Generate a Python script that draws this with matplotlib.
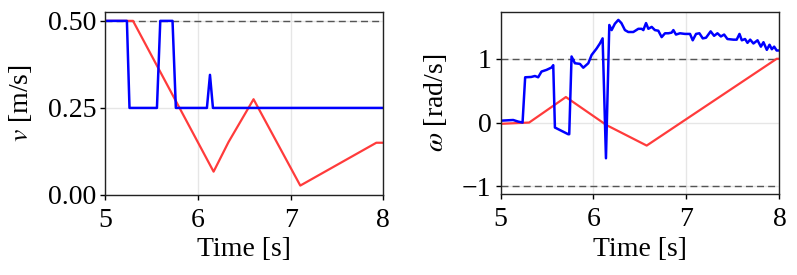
import numpy as np
import matplotlib
matplotlib.use("Agg")
import matplotlib.pyplot as plt

plt.rcParams['font.family'] = ['Liberation Serif', 'DejaVu Serif']
plt.rcParams['mathtext.fontset'] = 'stix'
plt.rcParams['font.size'] = 20

# linear velocity: command (blue) and reference (red)
v_cmd_t = [5.0, 5.234, 5.262, 5.558, 5.594, 5.726, 5.762, 6.097, 6.13, 6.162, 8.0]
v_cmd = [0.5, 0.5, 0.25, 0.25, 0.5, 0.5, 0.25, 0.25, 0.345, 0.25, 0.25]
v_ref_t = [5.0, 5.30, 6.169, 6.33, 6.60, 7.104, 7.924, 8.0]
v_ref = [0.5, 0.5, 0.067, 0.152, 0.275, 0.027, 0.150, 0.150]

# angular velocity: command (blue) and reference (red)
w_cmd_t = [5.01, 5.136, 5.19, 5.237, 5.265, 5.33, 5.37, 5.405, 5.441, 5.495, 5.549, 5.567,
           5.585, 5.728, 5.739, 5.764, 5.80, 5.854, 5.89, 5.944, 5.98, 6.033, 6.069, 6.098,
           6.134, 6.17, 6.195, 6.23, 6.267, 6.30, 6.338, 6.374, 6.428, 6.482, 6.518, 6.536,
           6.565, 6.59, 6.626, 6.66, 6.697, 6.733, 6.769, 6.805, 6.84, 6.859, 6.887, 6.93,
           6.984, 7.038, 7.067, 7.103, 7.139, 7.175, 7.21, 7.26, 7.297, 7.333, 7.37, 7.405,
           7.44, 7.505, 7.54, 7.57, 7.595, 7.63, 7.656, 7.685, 7.72, 7.764, 7.80, 7.828,
           7.864, 7.893, 7.918, 7.943, 7.97, 8.0]
w_cmd = [0.03, 0.04, 0.015, 0.0, 0.71, 0.715, 0.73, 0.71, 0.80, 0.826, 0.863, 0.90,
         -0.078, -0.183, -0.183, 1.036, 0.93, 0.92, 0.86, 0.93, 1.06, 1.16, 1.24, 1.32,
         -0.56, 1.53, 1.45, 1.55, 1.61, 1.56, 1.45, 1.42, 1.42, 1.47, 1.47, 1.45,
         1.56, 1.47, 1.50, 1.45, 1.44, 1.34, 1.40, 1.40, 1.41, 1.45, 1.38, 1.40,
         1.39, 1.39, 1.29, 1.39, 1.40, 1.32, 1.33, 1.43, 1.36, 1.40, 1.35, 1.38,
         1.31, 1.30, 1.30, 1.39, 1.29, 1.31, 1.25, 1.30, 1.24, 1.29, 1.19, 1.26,
         1.14, 1.22, 1.15, 1.19, 1.13, 1.13]
w_ref_t = [5.0, 5.308, 5.703, 6.14, 6.572, 7.97, 8.0]
w_ref = [-0.02, 0.0, 0.40, -0.04, -0.361, 1.0, 1.0]

blue = '#0000ff'
red = '#ff3b3b'

fig = plt.figure(figsize=(7.97, 2.75), dpi=100)
ax1 = fig.add_axes([0.132, 0.291, 0.349, 0.666])
ax2 = fig.add_axes([0.628, 0.2935, 0.350, 0.662])

for ax in (ax1, ax2):
    ax.grid(True, color='#e6e6e6', linewidth=1.0)
    ax.set_axisbelow(True)
    ax.set_xlim(5, 8)
    ax.set_xticks([5, 6, 7, 8])
    ax.set_xlabel("Time [s]", labelpad=3)
    ax.tick_params(length=3.5, width=1, pad=3)
    ax.tick_params(axis='x', pad=6)
    for s in ax.spines.values():
        s.set_linewidth(1.0)
        s.set_color('#222222')

ax1.axhline(0.5, color='#555555', linestyle='--', linewidth=1.0, dashes=(5, 3))
ax1.plot(v_ref_t, v_ref, color=red, linewidth=1.6)
ax1.plot(v_cmd_t, v_cmd, color=blue, linewidth=1.8)
ax1.set_ylim(0, 0.526)
ax1.set_yticks([0.0, 0.25, 0.5])
ax1.set_yticklabels(['0.00', '0.25', '0.50'])
ax1.set_ylabel("$v$ [m/s]", labelpad=10)

for yv in (1, -1):
    ax2.axhline(yv, color='#555555', linestyle='--', linewidth=1.0, dashes=(5, 3))
ax2.plot(w_ref_t, w_ref, color=red, linewidth=1.6)
ax2.plot(w_cmd_t, w_cmd, color=blue, linewidth=1.8)
ax2.set_ylim(-1.125, 1.73)
ax2.set_yticks([-1, 0, 1])
ax2.set_ylabel(r"$\omega$ [rad/s]", labelpad=9)

fig.savefig("out.png", dpi=100)
